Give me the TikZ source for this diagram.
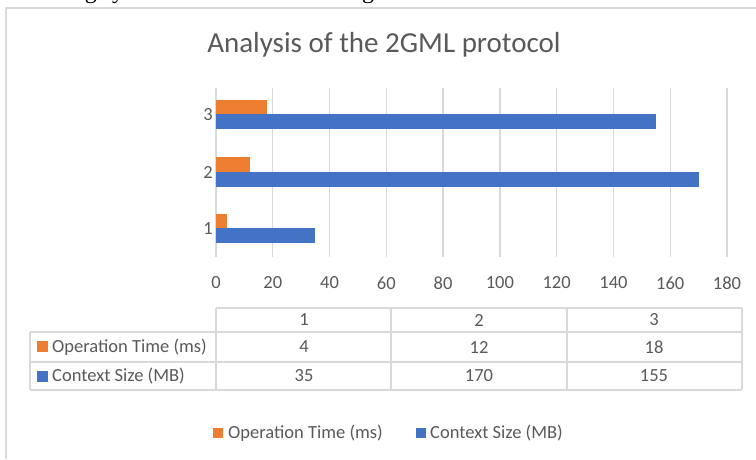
\documentclass[tikz,border=0pt]{standalone}
\usepackage{fontspec}
\setmainfont{Carlito}
\newfontfamily\bodyserif{Liberation Serif}
\definecolor{barorange}{HTML}{ED7D31}
\definecolor{barblue}{HTML}{4472C4}
\definecolor{gridgray}{HTML}{D9D9D9}
\definecolor{labelgray}{HTML}{595959}
\tikzset{
  gridline/.style={draw=gridgray, line width=1.3pt},
  frameline/.style={draw=gridgray, line width=1.5pt},
  tableline/.style={draw=gridgray, line width=1.2pt},
  lbl/.style={text=labelgray, font=\fontsize{18.5}{20}\selectfont, inner sep=0pt},
  optbar/.style={fill=barorange, draw=none},
  ctxbar/.style={fill=barblue, draw=none},
}
\begin{document}
\begin{tikzpicture}[x=1pt, y=-1pt]
\useasboundingbox (0,0) rectangle (756,459);

% running text of the page above the chart, mostly cut off by the page edge
\begin{scope}
  \clip (0,0) rectangle (756,459);
  \node[anchor=base west, inner sep=0pt]
    (bodytext) at (30,-2) {\bodyserif\fontsize{24}{26}\selectfont sorting system for the Gatan. In Figure 6 shows the results};
\end{scope}

% chart frame
\draw[frameline] (6,459) -- (6,8) -- (756,8);

% title
\node[text=labelgray, font=\fontsize{29}{32}\selectfont, inner sep=0pt] (title) at (384,45) {Analysis of the 2GML protocol};

% vertical gridlines and value axis labels
\def\sc{2.8389}
\foreach \v in {0,20,...,180} {
  \draw[gridline] ({216+\sc*\v},88) -- ({216+\sc*\v},257);
  \node[lbl] at ({216+\sc*\v},283) {\v};
}

% category labels
\node[lbl, anchor=east] (c3) at (213,115) {3};
\node[lbl, anchor=east] (c2) at (213,172) {2};
\node[lbl, anchor=east] (c1) at (213,229) {1};

% bars: operation time (orange) above context size (blue)
\fill[optbar] (216,100)   rectangle ({216+\sc*18},114);
\fill[ctxbar] (216,114)   rectangle ({216+\sc*155},129);
\fill[optbar] (216,157)   rectangle ({216+\sc*12},171.5);
\fill[ctxbar] (216,171.5) rectangle ({216+\sc*170},187);
\fill[optbar] (216,213.5) rectangle ({216+\sc*4},228);
\fill[ctxbar] (216,228)   rectangle ({216+\sc*35},243);

% data table
\draw[tableline] (216,308) -- (742,308);
\draw[tableline] (30,332) -- (742,332);
\draw[tableline] (30,362) -- (742,362);
\draw[tableline] (30,390) -- (742,390);
\draw[tableline] (30,332) -- (30,390);
\foreach \x in {216,391,567,742} \draw[tableline] (\x,308) -- (\x,390);

\node[lbl] (h1) at (304,320) {1};
\node[lbl] (h2) at (479,320) {2};
\node[lbl] (h3) at (654,320) {3};

\fill[barorange] (37,341) rectangle (48,351.5);
\node[lbl, anchor=west] (rowop) at (52,347) {Operation Time (ms)};
\fill[barblue] (37,371) rectangle (48,381.5);
\node[lbl, anchor=west] (rowctx) at (52,376) {Context Size (MB)};

\node[lbl] (v11) at (304,347) {4};
\node[lbl] (v12) at (479,347) {12};
\node[lbl] (v13) at (654,347) {18};
\node[lbl] (v21) at (304,376) {35};
\node[lbl] (v22) at (479,376) {170};
\node[lbl] (v23) at (654,376) {155};

% legend
\fill[barorange] (213,428) rectangle (223,438);
\node[lbl, anchor=west] (legop) at (228,433) {Operation Time (ms)};
\fill[barblue] (416,428) rectangle (426,438);
\node[lbl, anchor=west] (legctx) at (430,433) {Context Size (MB)};
\end{tikzpicture}
\end{document}
